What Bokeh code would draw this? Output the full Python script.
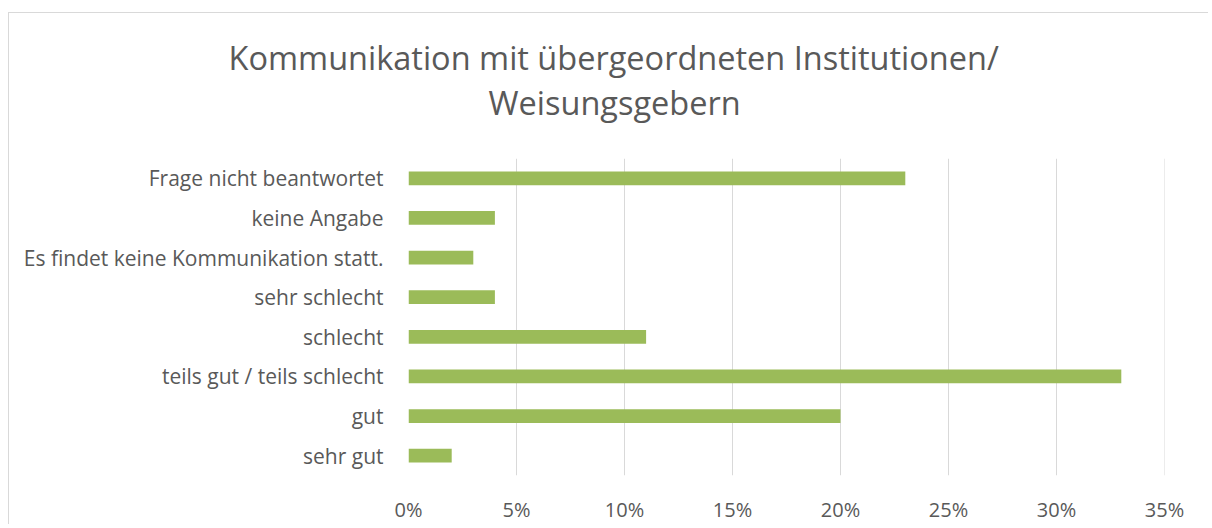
from bokeh.plotting import figure
from bokeh.models import Title, SingleIntervalTicker, NumeralTickFormatter, FactorRange, Range1d
from bokeh.embed import file_html
from bokeh.resources import INLINE

categories = [
    "sehr gut",
    "gut",
    "teils gut / teils schlecht",
    "schlecht",
    "sehr schlecht",
    "Es findet keine Kommunikation statt.",
    "keine Angabe",
    "Frage nicht beantwortet",
]
values = [0.02, 0.20, 0.33, 0.11, 0.04, 0.03, 0.04, 0.23]
title_lines = ["Kommunikation mit übergeordneten Institutionen/", "Weisungsgebern"]

FONT = "Open Sans"
GREY = "#595959"

p = figure(
    width=1200, height=512,
    y_range=FactorRange(*categories, range_padding=0),
    x_range=Range1d(0, 0.35 + 1e-9),
    output_backend="svg", toolbar_location=None, title=None,
    min_border_left=399, min_border_right=45, min_border_bottom=49, min_border_top=145,
)

p.hbar(y=categories, right=values, height=0.35, color="#9BBB59", line_color=None)

# spacer between plot area and title
p.add_layout(Title(text=" ", text_font=FONT, text_font_size="10px", standoff=19), "above")
p.add_layout(Title(text=title_lines[1], align="left", text_font=FONT, text_font_size="32.5px",
                   text_color=GREY, text_font_style="normal", text_line_height=1.0,
                   standoff=-2, offset=80), "above")
p.add_layout(Title(text=title_lines[0], align="left", text_font=FONT, text_font_size="32.5px",
                   text_color=GREY, text_font_style="normal", text_line_height=1.0,
                   standoff=-2, offset=-180), "above")

p.xaxis.ticker = SingleIntervalTicker(interval=0.05)
p.xaxis.formatter = NumeralTickFormatter(format="0%")
for ax in (p.xaxis, p.yaxis):
    ax.axis_line_color = None
    ax.major_tick_line_color = None
    ax.minor_tick_line_color = None
    ax.major_label_text_font = FONT
    ax.major_label_text_color = GREY
p.yaxis.major_label_text_font_size = "21px"
p.xaxis.major_label_text_font_size = "20px"
p.xaxis.major_label_standoff = 14
p.yaxis.major_label_standoff = 19

p.xgrid.grid_line_color = "#D9D9D9"
p.ygrid.grid_line_color = None
p.outline_line_color = None
p.styles = {"border-top": "1px solid #D9D9D9", "border-left": "1px solid #D9D9D9",
            "margin-top": "12px", "margin-left": "8px"}

open("out.html", "w").write(file_html(p, INLINE))
